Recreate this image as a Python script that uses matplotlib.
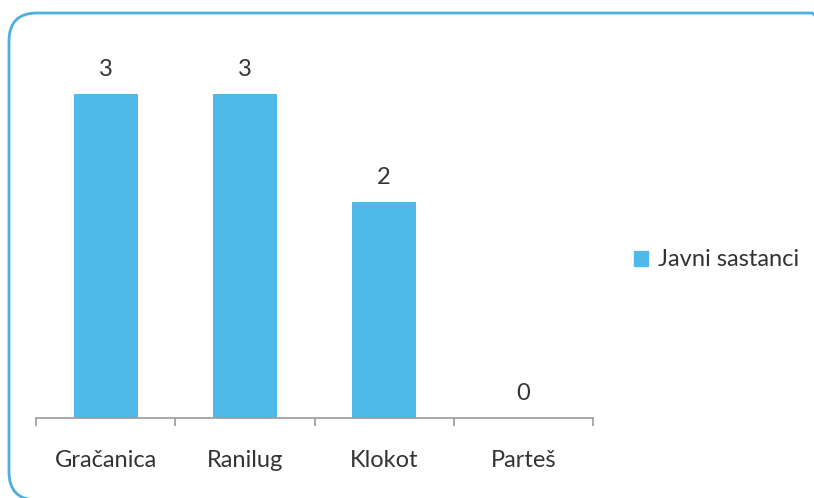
import matplotlib.pyplot as plt
from matplotlib.patches import FancyBboxPatch, Patch

places = ["Gračanica", "Ranilug", "Klokot", "Parteš"]
meetings = [3, 3, 2, 0]
series_name = "Javni sastanci"

bar_color = "#4FB9EA"
text_color = "#333333"

plt.rcParams["font.family"] = ["Lato", "DejaVu Sans"]

fig = plt.figure(figsize=(8.14, 4.98), dpi=100)
W, H = 814, 498

# rounded frame around the chart
frame = FancyBboxPatch((9, -2), 830, 487, boxstyle="round,pad=0,rounding_size=28",
                       transform=None, fill=False, edgecolor="#4AAEE0", linewidth=2)
fig.patches.append(frame)

ax = fig.add_axes([36 / W, (H - 418) / H, (593 - 36) / W, (418 - 40) / H])
x = range(len(places))
bars = ax.bar(x, meetings, width=0.46, color=bar_color, label=series_name)
ax.set_ylim(0, 3.5)
ax.set_xlim(-0.5, len(places) - 0.5)

for b, v in zip(bars, meetings):
    ax.annotate(str(v), (b.get_x() + b.get_width() / 2, v), xytext=(0, 10),
                textcoords="offset points", ha="center", va="bottom",
                fontsize=17, color=text_color)

for s in ["top", "right", "left"]:
    ax.spines[s].set_visible(False)
ax.spines["bottom"].set_color("#999999")
ax.spines["bottom"].set_linewidth(1.2)
ax.set_yticks([])
ax.set_xticks([i - 0.5 for i in range(len(places) + 1)], minor=False)
ax.set_xticklabels([])
ax.tick_params(axis="x", length=6, color="#999999", width=1.2)
ax.set_xticks(list(x), minor=True)
ax.set_xticklabels(places, minor=True, fontsize=17, color=text_color)
ax.tick_params(axis="x", which="minor", length=0, pad=23)

fig.legend(handles=[Patch(color=bar_color, label=series_name)],
           loc="center left", bbox_to_anchor=(613 / W, (H - 260) / H),
           frameon=False, fontsize=17, handlelength=0.6, handleheight=0.6,
           handletextpad=0.4, labelcolor=text_color)

fig.savefig("out.png", dpi=100)
